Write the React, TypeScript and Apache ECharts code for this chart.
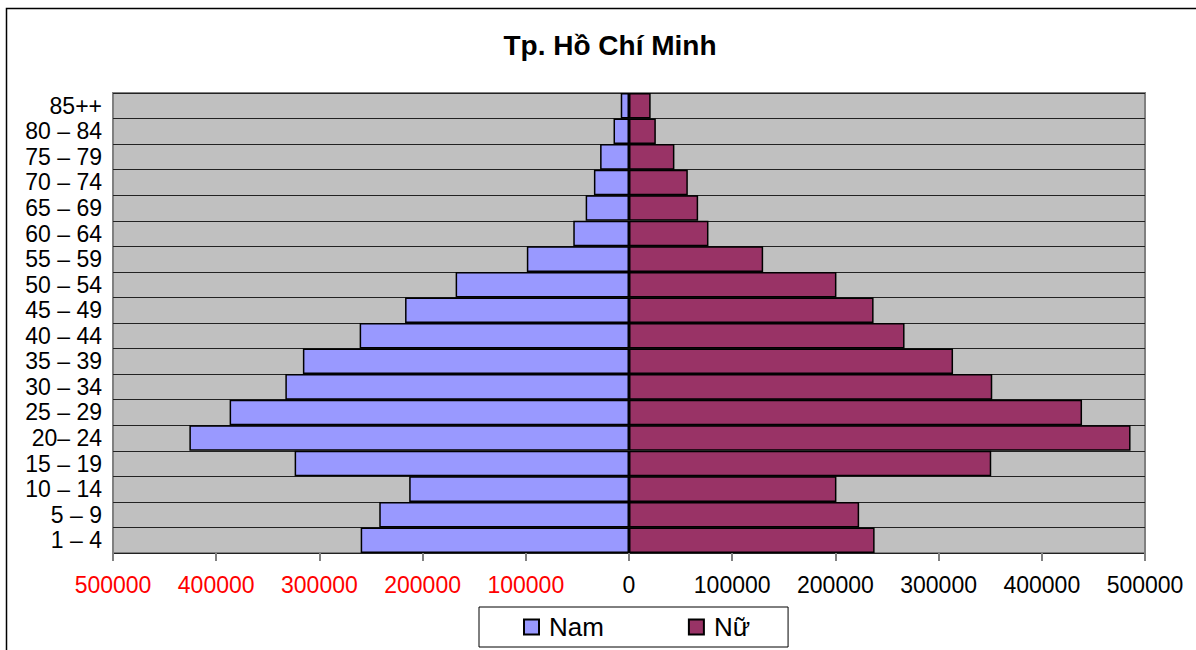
import React, { useEffect, useRef } from "react";
import * as echarts from "echarts";

const titleText = "Tp. Hồ Chí Minh";
const ageGroups = [
  "1 – 4", "5 – 9", "10 – 14", "15 – 19", "20– 24", "25 – 29", "30 – 34", "35 – 39", "40 – 44",
  "45 – 49", "50 – 54", "55 – 59", "60 – 64", "65 – 69", "70 – 74", "75 – 79", "80 – 84", "85++",
];
const namValues = [
  260000, 242000, 213000, 324000, 426000, 387000, 333000, 316000, 261000,
  217000, 168000, 99000, 54000, 42000, 34000, 28000, 15000, 8000,
];
const nuValues = [
  238000, 223000, 201000, 351000, 486000, 439000, 352000, 314000, 267000,
  237000, 201000, 130000, 77000, 67000, 57000, 44000, 26000, 21000,
];
const seriesNames = ["Nam", "Nữ"];
const xMin = -500000;
const xMax = 500000;
const xStep = 100000;

const FONT = "'Liberation Sans', Arial, sans-serif";

export default function App() {
  const ref = useRef<HTMLDivElement>(null);
  useEffect(() => {
    if (!ref.current) return;
    const chart = echarts.init(ref.current, null, { renderer: "svg" });
    chart.setOption({
      animation: false,
      backgroundColor: "#ffffff",
      title: {
        text: titleText,
        left: 605,
        textAlign: "center",
        top: 26,
        textStyle: { fontFamily: FONT, fontSize: 28, fontWeight: "bold", color: "#000" },
      },
      graphic: [
        {
          type: "rect",
          shape: { x: 6.5, y: 8.5, width: 1300, height: 800 },
          style: { fill: "none", stroke: "#000", lineWidth: 1.5 },
          silent: true,
          z: 100,
        },
      ],
      legend: {
        left: 479,
        top: 607,
        orient: "horizontal",
        data: seriesNames,
        icon: "rect",
        itemWidth: 15,
        itemHeight: 15,
        itemGap: 84,
        padding: [7, 38, 7, 44],
        borderColor: "#000",
        borderWidth: 1,
        backgroundColor: "#fff",
        textStyle: { fontFamily: FONT, fontSize: 26, color: "#000", padding: [0, 0, 0, 5] },
      },
      grid: {
        left: 113,
        right: 51,
        top: 93,
        bottom: 97,
        show: true,
        backgroundColor: "#C0C0C0",
        borderColor: "#808080",
        borderWidth: 2,
      },
      xAxis: {
        type: "value",
        min: xMin,
        max: xMax,
        interval: xStep,
        axisLine: { show: false },
        axisTick: { show: true, length: 8, lineStyle: { color: "#808080", width: 2 } },
        splitLine: { show: false },
        axisLabel: {
          margin: 20,
          fontFamily: FONT,
          fontSize: 23,
          formatter: (v: number) => String(Math.abs(v)),
          color: (v: any) => (Number(v) < 0 ? "#FF0000" : "#000000"),
        },
      },
      yAxis: {
        type: "category",
        data: ageGroups,
        axisLine: { show: false },
        axisTick: { show: false },
        splitLine: { show: true, interval: 0, lineStyle: { color: "#222", width: 1 } },
        axisLabel: { interval: 0, margin: 11, fontFamily: FONT, fontSize: 23, color: "#000" },
      },
      series: [
        {
          name: seriesNames[0],
          type: "bar",
          stack: "pop",
          barCategoryGap: 0,
          data: namValues.map((v) => -v),
          itemStyle: { color: "#9999FF", borderColor: "#000", borderWidth: 1.5 },
        },
        {
          name: seriesNames[1],
          type: "bar",
          stack: "pop",
          barCategoryGap: 0,
          data: nuValues,
          itemStyle: { color: "#993366", borderColor: "#000", borderWidth: 1.5 },
        },
      ],
    });
    return () => chart.dispose();
  }, []);
  return (
    <div
      ref={ref}
      style={{ position: "absolute", left: 0, top: 0, width: 1196, height: 650 }}
    />
  );
}
